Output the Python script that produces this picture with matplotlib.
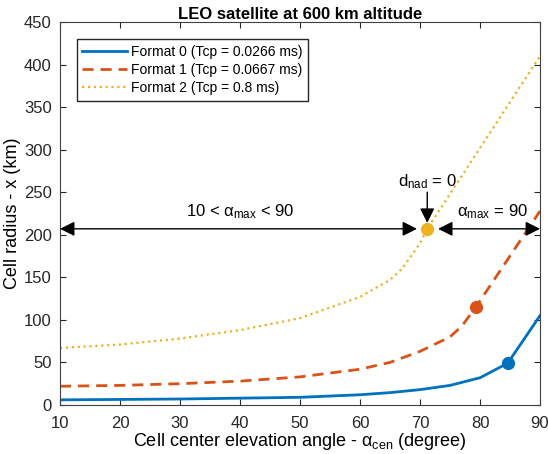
import matplotlib
matplotlib.use("Agg")
import matplotlib.pyplot as plt

plt.rcParams["font.family"] = ["Liberation Sans", "DejaVu Sans"]

x0 = [10, 20, 30, 40, 50, 60, 65, 70, 75, 80, 84.6, 90]
y0 = [6, 6.5, 7, 8, 9, 12, 14.5, 18, 23, 32, 49, 105]
x1 = [10, 20, 30, 40, 50, 60, 65, 70, 75, 77, 79.3, 90]
y1 = [22, 23, 25, 28, 33, 42, 50, 63, 80, 93, 115, 228]
x2 = [10, 20, 30, 40, 50, 60, 65, 67, 70, 71.2, 90]
y2 = [67, 71, 78, 88, 102, 127, 147, 160, 190, 207, 410]
labels = ["Format 0 (Tcp = 0.0266 ms)", "Format 1 (Tcp = 0.0667 ms)",
          "Format 2 (Tcp = 0.8 ms)"]
marks = [(84.6, 49), (79.3, 115), (71.2, 207)]
colors = ["#0072BD", "#D95319", "#EDB120"]

fig = plt.figure(figsize=(5.48, 4.54), dpi=100)
ax = fig.add_axes([0.1095, 0.108, 0.876, 0.8435])

ax.plot(x0, y0, "-", color=colors[0], lw=2, label=labels[0])
ax.plot(x1, y1, "--", color=colors[1], lw=2, dashes=(4, 2.5), label=labels[1])
ax.plot(x2, y2, ":", color=colors[2], lw=1.6, label=labels[2])
for (mx, my), c in zip(marks, colors):
    ax.plot(mx, my, "o", color=c, ms=9.5, mew=0, zorder=5)

# region arrows
aprops = dict(arrowstyle="<|-|>", color="black", lw=1.0, mutation_scale=22,
              shrinkA=0, shrinkB=0)
ax.annotate("", xy=(10, 207), xytext=(69.5, 207), arrowprops=aprops)
ax.annotate("", xy=(73, 207), xytext=(90, 207), arrowprops=aprops)
ax.text(40, 216, r"10 < $\mathregular{\alpha_{max}}$ < 90", ha="center",
        va="bottom", fontsize=12)
ax.text(82, 216, r"$\mathregular{\alpha_{max}}$ = 90", ha="center",
        va="bottom", fontsize=12)
ax.annotate("", xy=(71.2, 214), xytext=(71.2, 250),
            arrowprops=dict(arrowstyle="-|>", color="black", lw=1.0,
                            mutation_scale=22, shrinkA=0, shrinkB=0))
ax.text(71.2, 252, r"$\mathregular{d_{nad}}$ = 0", ha="center", va="bottom",
        fontsize=12)

ax.set_xlim(10, 90)
ax.set_ylim(0, 450)
ax.set_xticks(range(10, 91, 10))
ax.set_yticks(range(0, 451, 50))
ax.tick_params(direction="in", top=True, right=True, labelsize=12,
               colors="#262626", length=4)
ax.tick_params(axis="x", pad=8)
ax.tick_params(axis="y", pad=6)
for s in ax.spines.values():
    s.set_color("#404040")
    s.set_linewidth(0.8)
ax.set_xlabel(r"Cell center elevation angle - $\mathregular{\alpha_{cen}}$ (degree)",
              fontsize=13, labelpad=0)
ax.set_ylabel("Cell radius - x (km)", fontsize=13, labelpad=2)
ax.set_title("LEO satellite at 600 km altitude", fontsize=12, fontweight="bold",
             pad=2)
ax.legend(loc="upper left", bbox_to_anchor=(0.035, 0.955), fontsize=10,
          fancybox=False, edgecolor="#262626", framealpha=1, handlelength=3.2,
          borderaxespad=0.0, labelspacing=0.3, handletextpad=0.3,
          borderpad=0.4)

fig.savefig("out.png", dpi=100)
